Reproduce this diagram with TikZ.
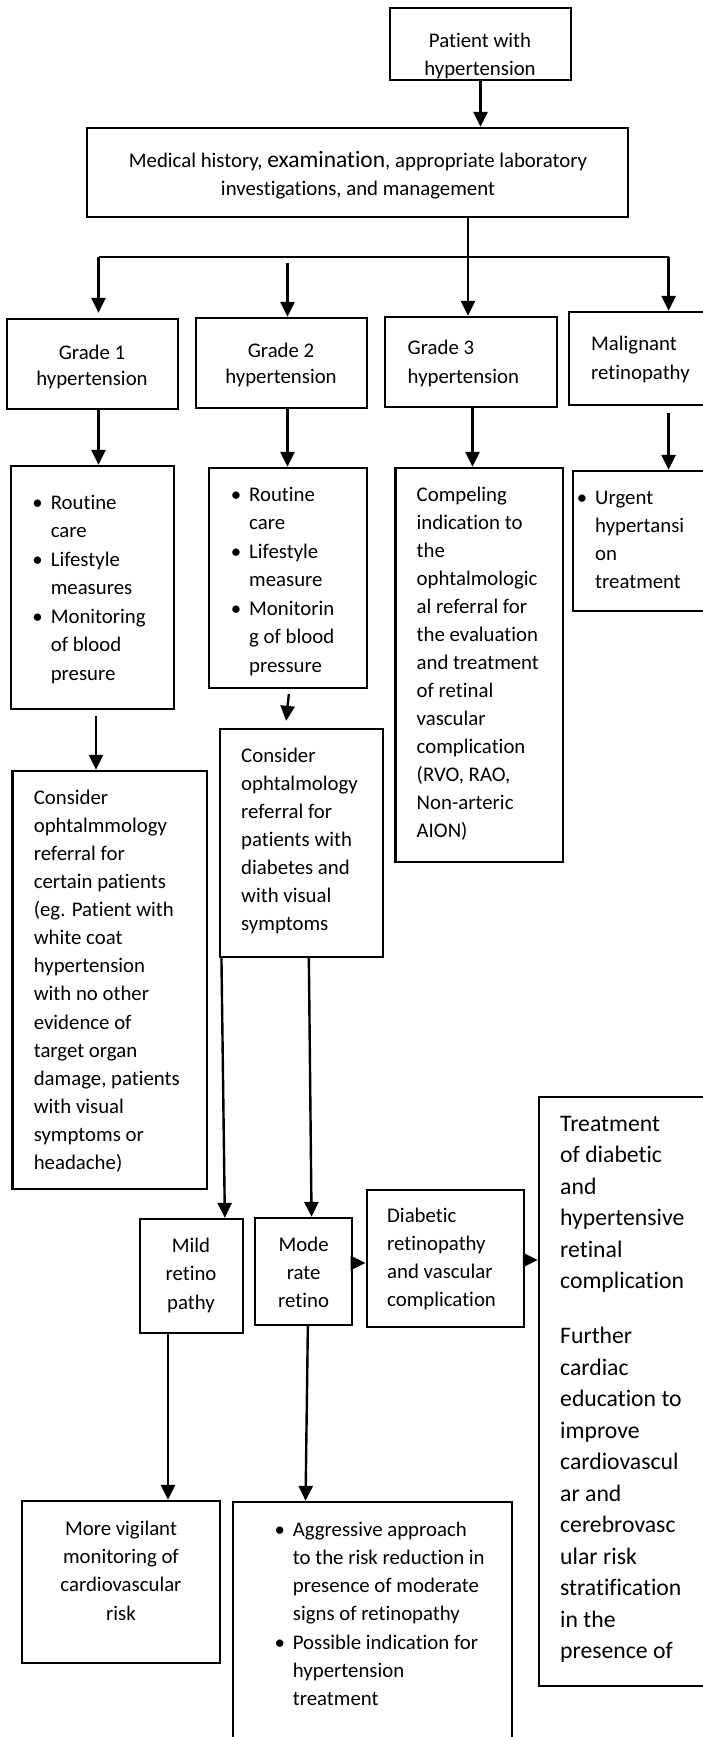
\documentclass[tikz,border=0pt]{standalone}
\usepackage{fontspec}
\setmainfont{Carlito}[Ligatures=NoCommon]
\usetikzlibrary{arrows.meta,calc}
\newcommand\hs{\rule{0pt}{16pt}}
\newcommand\hsT{\rule{0pt}{18pt}}
\newcommand\bul{\llap{\textbullet\hspace{8pt}}}
\begin{document}
\begin{tikzpicture}[x=1pt,y=-1pt,
  box/.style={draw, line width=2.3pt, inner sep=0pt},
  ln/.style={line width=2.2pt},
  arr/.style={line width=2.4pt, -{Triangle[width=14pt,length=15pt]}},
  tl/.style={inner sep=0pt, align=left, anchor=north west, font=\fontsize{20.8pt}{#1}\selectfont},
  tl/.default=28pt,
  tc/.style={inner sep=0pt, align=center, anchor=north, font=\fontsize{20.8pt}{#1}\selectfont},
  tc/.default=28pt
]
\fill[white] (0,0) rectangle (702,1737);
\useasboundingbox (0,0) rectangle (702,1737);

% boxes
\node[box, minimum width=181pt, minimum height=72pt] (patient) at (480.5,44) {};
\node[box, minimum width=541pt, minimum height=89pt] (med) at (357.5,172.5) {};
\node[box, minimum width=171pt, minimum height=90pt] (g1) at (92.4,364) {};
\node[box, minimum width=171pt, minimum height=90pt] (g2) at (281.5,363) {};
\node[box, minimum width=172pt, minimum height=90pt] (g3) at (471,362) {};
\node[box, minimum width=143pt, minimum height=93pt] (mal) at (640.5,358.5) {};
\node[box, minimum width=163pt, minimum height=243pt] (r1) at (92.5,587.5) {};
\node[box, minimum width=158pt, minimum height=220pt] (r2) at (288,578) {};
\node[box, minimum width=167.5pt, minimum height=394pt] (r3) at (479.25,665) {};
\node[box, minimum width=139pt, minimum height=140pt] (r4) at (642.5,541) {};
\node[box, minimum width=194.5pt, minimum height=418pt] (A) at (109.75,980) {};
\node[box, minimum width=163pt, minimum height=228pt] (B) at (301.5,843) {};
\node[box, minimum width=102.7pt, minimum height=113.7pt] (mild) at (191.35,1275.85) {};
\node[box, minimum width=96.7pt, minimum height=107pt] (mod) at (303.35,1271.5) {};
\node[box, minimum width=157.3pt, minimum height=137pt] (dia) at (445.35,1258.5) {};
\node[box, minimum width=173pt, minimum height=589pt] (treat) at (625.5,1391.5) {};
\node[box, minimum width=198.3pt, minimum height=162pt] (vig) at (120.85,1582) {};
\node[box, minimum width=279pt, minimum height=258pt] (agg) at (372.5,1631) {};

% texts
\node[tc] (t-patient) at (480,31) {\hs Patient with\\hypertension};
\node[tc] (t-med) at (358,151) {\hs Medical history, {\fontsize{23.5pt}{28pt}\selectfont examination}, appropriate laboratory\\investigations, and management};
\node[tc=26pt] (t-g1) at (92,343) {\hs Grade 1\\hypertension};
\node[tc=26pt] (t-g2) at (281,341) {\hs Grade 2\\hypertension};
\node[tl=29pt] (t-g3) at (407.5,338) {\hs Grade 3\\hypertension};
\node[tl=29pt] (t-mal) at (591,334) {\hs Malignant\\retinopathy};
\node[tl=28.5pt] (t-r1) at (50.6,493) {\hs\bul Routine\\care\\\bul Lifestyle\\measures\\\bul Monitoring\\of blood\\presure};
\node[tl=28.5pt] (t-r2) at (249,485) {\hs\bul Routine\\care\\\bul Lifestyle\\measure\\\bul Monitorin\\g of blood\\pressure};
\node[tl] (t-r3) at (416.5,485) {\hs Compeling\\indication to\\the\\ophtalmologic\\al referral for\\the evaluation\\and treatment\\of retinal\\vascular\\complication\\(RVO, RAO,\\Non-arteric\\AION)};
\node[tl] (t-r4) at (595,488) {\hs\bul Urgent\\hypertansi\\on\\treatment};
\node[tl=28.1pt] (t-A) at (33.6,788) {\hs Consider\\ophtalmmology\\referral for\\certain patients\\(eg. Patient with\\white coat\\hypertension\\with no other\\evidence of\\target organ\\damage, patients\\with visual\\symptoms or\\headache)};
\node[tl] (t-B) at (241,746) {\hs Consider\\ophtalmology\\referral for\\patients with\\diabetes and\\with visual\\symptoms};
\node[tc=28.5pt] (t-mild) at (191,1236) {\hs Mild\\retino\\pathy};
\node[tc=28pt] (t-mod) at (303.6,1235) {\hs Mode\\rate\\retino};
\node[tl=28pt] (t-dia) at (387,1206) {\hs Diabetic\\retinopathy\\and vascular\\complication};
\node[inner sep=0pt, align=left, anchor=north west, font=\fontsize{23.7pt}{31.5pt}\selectfont] (t-treat) at (560,1113) {\hsT Treatment\\of diabetic\\and\\hypertensive\\retinal\\complication\\[23.5pt]Further\\cardiac\\education to\\improve\\cardiovascul\\ar and\\cerebrovasc\\ular risk\\stratification\\in the\\presence of};
\node[tc=28.3pt] (t-vig) at (121,1519) {\hs More vigilant\\monitoring of\\cardiovascular\\risk};
\node[tl=28.2pt] (t-agg) at (292.7,1520) {\hs\bul Aggressive approach\\to the risk reduction in\\presence of moderate\\signs of retinopathy\\\bul Possible indication for\\hypertension\\treatment};

% connectors
\coordinate (fk) at (468,257);
\coordinate (fL) at (98.5,257);
\coordinate (fR) at (668.6,257);
\coordinate (f2) at (287.5,263);
\coordinate (x3) at (472.5,0);
\coordinate (xa) at (96,0);
\coordinate (xm) at (168,0);

\draw[arr] (patient.south) -- (patient.south |- med.north);
\draw[ln] (med.south -| fk) -- (fk);
\draw[ln] (fL) -- (fR);
\draw[arr] (fL) -- ($(fL |- g1.north)+(0,-5)$);
\draw[arr] (f2) -- (f2 |- g2.north);
\draw[arr] (fk) -- (fk |- g3.north);
\draw[arr] (fR) -- (fR |- mal.north);

\draw[arr] (g1.south -| fL) -- (r1.north -| fL);
\draw[arr] (g2.south -| f2) -- (r2.north -| f2);
\draw[arr] (g3.south -| x3) -- (r3.north -| x3);
\draw[arr] ($(mal.south -| fR)+(0,7)$) -- (r4.north -| fR);

\draw[arr] ($(r1.south -| xa)+(0,6)$) -- (A.north -| xa);
\draw[arr] ($(r2.south west)+(81,5)$) -- ($(B.north west)+(67.3,-7)$);

\draw[arr] ($(B.south west)+(2.6,0)$) -- ($(mild.north west)+(86,0)$);
\draw[arr] ($(B.south west)+(90,0)$) -- ($(mod.north west)+(57.7,0)$);

\draw[arr] ($(mod.east)+(0,-8.5)$) -- ($(dia.west |- mod.east)+(0,-8.5)$);
\draw[arr] ($(dia.east)+(0,1.5)$) -- ($(treat.west |- dia.east)+(0,1.5)$);

\draw[arr] (mild.south -| xm) -- (vig.north -| xm);
\draw[arr] ($(mod.south west)+(54,0)$) -- ($(agg.north west)+(73.7,0)$);
\end{tikzpicture}
\end{document}
